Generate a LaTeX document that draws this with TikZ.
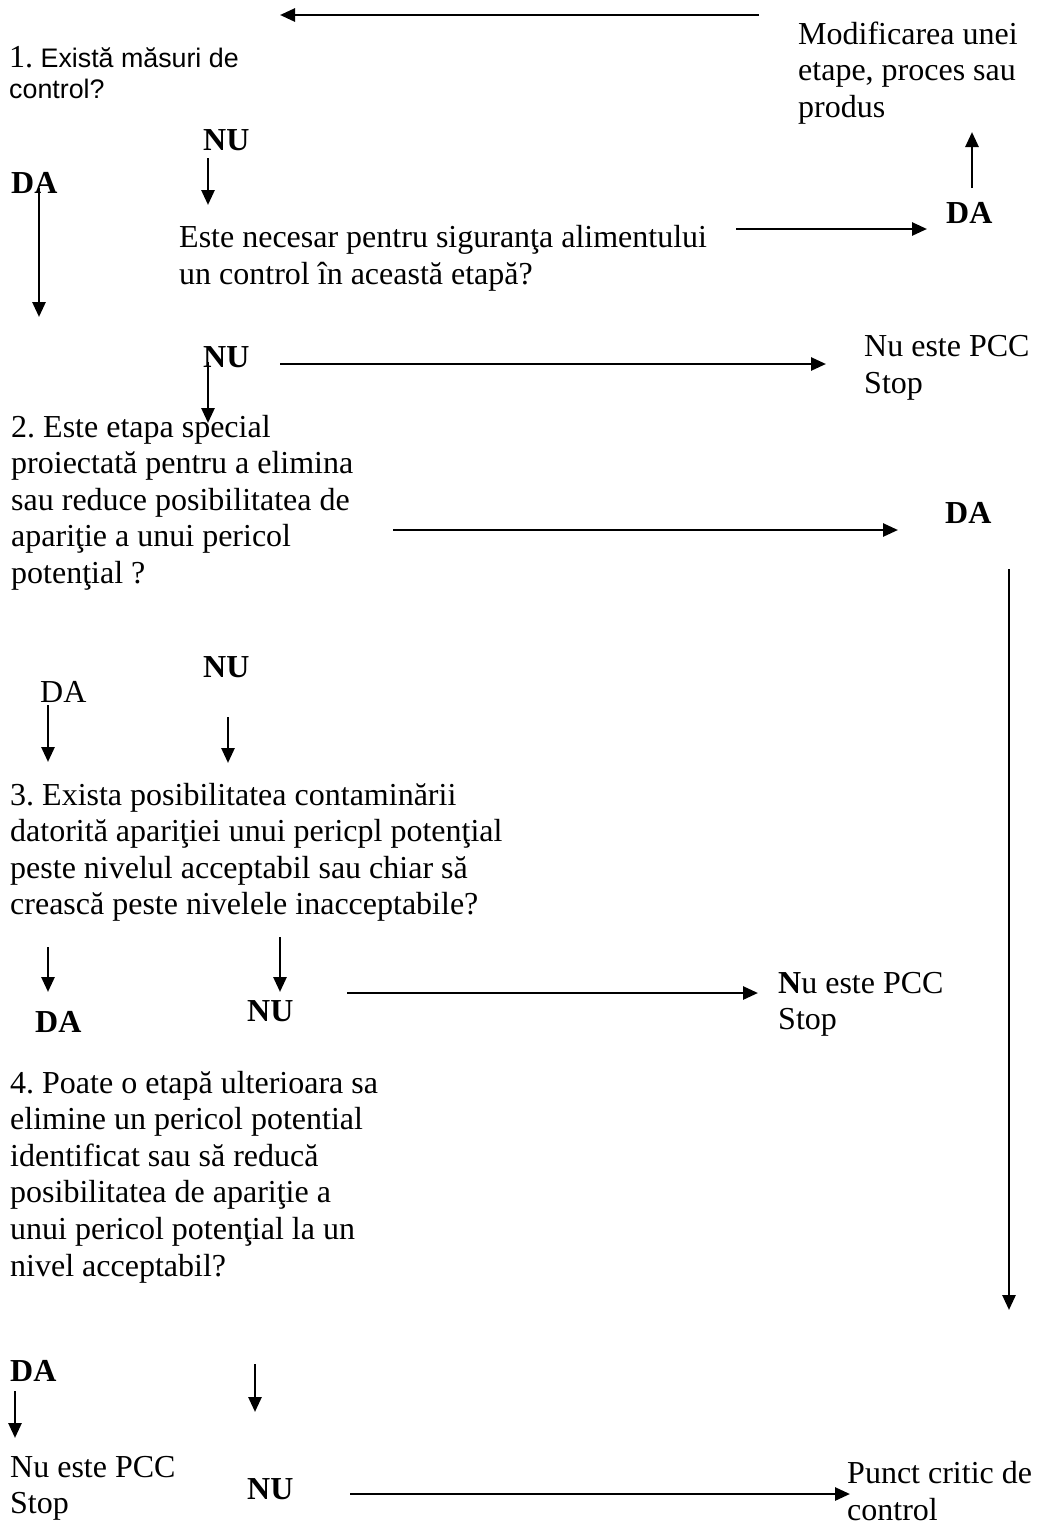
\documentclass[tikz,border=0pt]{standalone}
\usepackage{fontspec}
\setmainfont{Liberation Serif}
\newfontfamily\arialfont{Liberation Sans}
\usetikzlibrary{arrows.meta}
\frenchspacing
\begin{document}
\begin{tikzpicture}[x=1pt,y=-1pt,
  txt/.style={anchor=base west,inner sep=0pt,align=left,font=\fontsize{32}{36.6}\selectfont\frenchspacing},
  lbl/.style={anchor=base west,inner sep=0pt,font=\fontsize{32}{36.6}\selectfont\bfseries},
  sans/.style={anchor=base west,inner sep=0pt,align=left,font=\arialfont\fontsize{26.8}{31}\selectfont\frenchspacing},
  arr/.style={line width=2.7pt,-{Triangle[length=15pt,width=13pt]}},
]
\useasboundingbox (0,0) rectangle (1037,1524);

% ---- text blocks (multi-line blocks are placed by the baseline of their last line) ----
\node[txt]  (mod)   at (798,117.2)  {Modificarea unei\\etape, proces sau\\produs};
\node[sans] (q1)    at (9,98)       {{\rmfamily\fontsize{32}{31}\selectfont 1.} Există măsuri de\\control?};
\node[lbl]  (nu1)   at (203,150)    {NU};
\node[lbl]  (da1)   at (11,193)     {DA};
\node[txt]  (q1b)   at (179,284)    {Este necesar pentru siguranţa alimentului\\un control în această etapă?};
\node[lbl]  (da1b)  at (946,223)    {DA};
\node[lbl]  (nu2)   at (203,367)    {NU};
\node[txt]  (stop1) at (864,393)    {Nu este PCC\\Stop};
\node[txt]  (q2)    at (11,583.4)   {2. Este etapa special\\proiectată pentru a elimina\\sau reduce posibilitatea de\\apariţie a unui pericol\\potenţial ?};
\node[lbl]  (da2)   at (945,523)    {DA};
\node[lbl]  (nu3)   at (203,677)    {NU};
\node[txt]  (da3)   at (40,702)     {DA};
\node[txt]  (q3)    at (10,914.8)   {3. Exista posibilitatea contaminării\\datorită apariţiei unui pericpl potenţial\\peste nivelul acceptabil sau chiar să\\crească peste nivelele inacceptabile?};
\node[lbl]  (da4)   at (35,1032)    {DA};
\node[lbl]  (nu4)   at (247,1021)   {NU};
\node[txt]  (stop2) at (778,1029.6) {\textbf{N}u este PCC\\Stop};
\node[txt]  (q4)    at (10,1276)    {4. Poate o etapă ulterioara sa\\elimine un pericol potential\\identificat sau să reducă\\posibilitatea de apariţie a\\unui pericol potenţial la un\\nivel acceptabil?};
\node[lbl]  (da5)   at (10,1381)    {DA};
\node[txt]  (stop3) at (10,1513.6)  {Nu este PCC\\Stop};
\node[lbl]  (nu5)   at (247,1499)   {NU};
\node[txt]  (pcc)   at (847,1520)   {Punct critic de\\control};

% ---- arrow end points ----
\coordinate (topS) at (759,15);   \coordinate (topE) at (280,15);
\coordinate (n1S) at (208,158);   \coordinate (n1E) at (208,205);
\coordinate (d1S) at (39,188);    \coordinate (d1E) at (39,317);
\coordinate (q1S) at (736,229);   \coordinate (q1E) at (927,229);
\coordinate (upS) at (972,188);   \coordinate (upE) at (972,132);
\coordinate (n2S) at (208,362);   \coordinate (n2E) at (208,423);
\coordinate (n2rS) at (280,364);  \coordinate (n2rE) at (826,364);
\coordinate (q2S) at (393,530);   \coordinate (q2E) at (898,530);
\coordinate (lgS) at (1009,569);  \coordinate (lgE) at (1009,1310);
\coordinate (d3S) at (48,705);    \coordinate (d3E) at (48,762);
\coordinate (n3S) at (228,717);   \coordinate (n3E) at (228,763);
\coordinate (q3dS) at (48,947);   \coordinate (q3dE) at (48,992);
\coordinate (q3nS) at (280,937);  \coordinate (q3nE) at (280,992);
\coordinate (n4S) at (347,993);   \coordinate (n4E) at (758,993);
\coordinate (d5S) at (15,1391);   \coordinate (d5E) at (15,1438);
\coordinate (q4nS) at (255,1364); \coordinate (q4nE) at (255,1412);
\coordinate (n5S) at (350,1494);  \coordinate (n5E) at (850,1494);

% ---- connectors ----
\draw[arr] (topS) -- (topE);
\draw[arr] (n1S) -- (n1E);
\draw[arr] (d1S) -- (d1E);
\draw[arr] (q1S) -- (q1E);
\draw[arr] (upS) -- (upE);
\draw[arr] (n2S) -- (n2E);
\draw[arr] (n2rS) -- (n2rE);
\draw[arr] (q2S) -- (q2E);
\draw[arr] (lgS) -- (lgE);
\draw[arr] (d3S) -- (d3E);
\draw[arr] (n3S) -- (n3E);
\draw[arr] (q3dS) -- (q3dE);
\draw[arr] (q3nS) -- (q3nE);
\draw[arr] (n4S) -- (n4E);
\draw[arr] (d5S) -- (d5E);
\draw[arr] (q4nS) -- (q4nE);
\draw[arr] (n5S) -- (n5E);
\end{tikzpicture}
\end{document}
